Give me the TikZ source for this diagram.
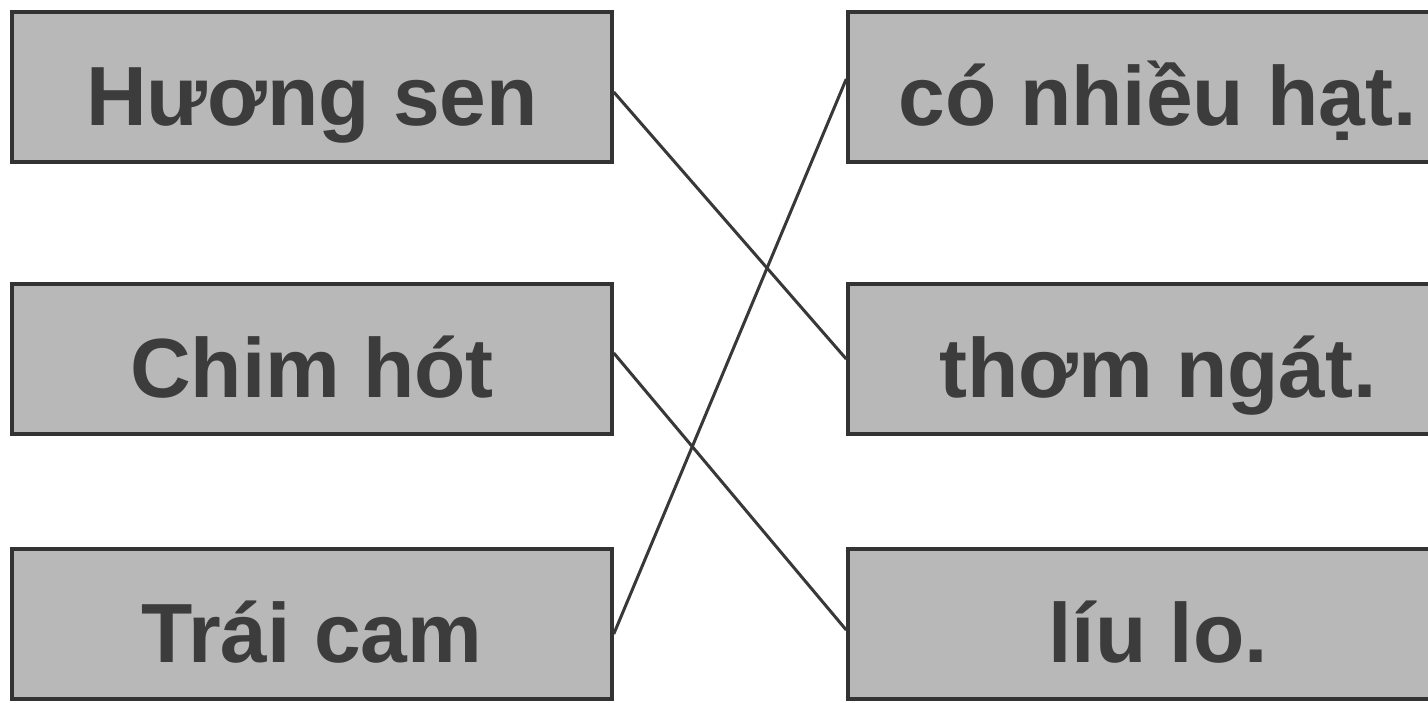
\documentclass[tikz,border=0pt]{standalone}
\usepackage{fontspec}
\setmainfont{Liberation Sans}
\definecolor{boxfill}{HTML}{B8B8B8}
\definecolor{boxline}{HTML}{333333}
\definecolor{txt}{HTML}{3C3C3C}
\definecolor{conn}{HTML}{383838}
\begin{document}
\begin{tikzpicture}[x=1pt,y=-1pt,
  wordbox/.style={draw=boxline,line width=3.5pt,fill=boxfill,text=txt,
    font=\fontsize{84}{90}\selectfont\bfseries,inner sep=0pt,
    text height=76pt,text depth=0pt,anchor=center},
  leftbox/.style={wordbox,minimum width=600pt,minimum height=150pt},
  rightbox/.style={wordbox,minimum width=620pt,minimum height=150pt},
  conn/.style={draw=conn,line width=3pt}]
\useasboundingbox (0,0) rectangle (1428,702);
\fill[white] (0,0) rectangle (1428,702);
\begin{scope}
\clip (0,0) rectangle (1428,702);
\node[leftbox] (hs) at (312,87) {Hương sen};
\node[leftbox] (ch) at (312,359) {Chim hót};
\node[leftbox] (tc) at (312,624) {Trái cam};
\node[rightbox] (cn) at (1158,87) {có nhiều hạt.};
\node[rightbox] (tn) at (1158,359) {thơm ngát.};
\node[rightbox] (ll) at (1158,624) {líu lo.};
\draw[conn] ([yshift=-5pt]hs.east) -- (tn.west);
\draw[conn] ([yshift=6pt]ch.east) -- ([yshift=-6pt]ll.west);
\draw[conn] ([yshift=-10pt]tc.east) -- ([yshift=8pt]cn.west);
\end{scope}
\end{tikzpicture}
\end{document}
